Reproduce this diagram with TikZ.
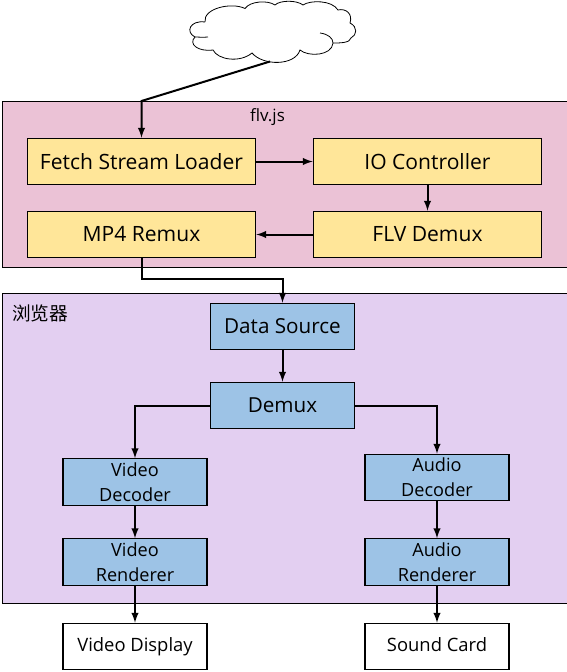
\documentclass[tikz,border=0pt]{standalone}
\usepackage{fontspec}
\setmainfont{Open Sans}
\newfontfamily\cjkfont{Noto Sans CJK SC}
\usetikzlibrary{shapes, arrows, positioning}
\definecolor{panelpink}{HTML}{EBC2D6}
\definecolor{panelviolet}{HTML}{E3CFF1}
\definecolor{boxyellow}{HTML}{FFE699}
\definecolor{boxblue}{HTML}{9DC3E6}
\tikzstyle{panel} = [draw=black, line width=0.8pt, rectangle, minimum width=424pt, anchor=north west, inner sep=0pt]
\tikzstyle{widebox} = [draw=black, fill=boxyellow, line width=0.8pt, rectangle, minimum width=171.5pt, minimum height=35pt, inner sep=0pt, font=\fontsize{15.8}{18}\selectfont]
\tikzstyle{midbox} = [draw=black, fill=boxblue, line width=0.8pt, rectangle, minimum width=108pt, minimum height=35pt, inner sep=0pt, font=\fontsize{15.5}{18}\selectfont]
\tikzstyle{smallbox} = [midbox, align=center, font=\fontsize{13.6}{19}\selectfont]
\tikzstyle{endbox} = [midbox, fill=white, text height=10.5pt, text depth=3pt, font=\fontsize{13.8}{16}\selectfont]
\tikzstyle{link} = [draw=black, line width=1.5pt, -latex]
\begin{document}
\begin{tikzpicture}[x=0.75pt,y=-0.75pt]
	\useasboundingbox (0,0) rectangle (567,672);
	\node [panel, fill=panelpink, minimum height=124.5pt] (flvpanel) at (2,101) {};
	\node [panel, fill=panelviolet, minimum height=232.5pt] (browserpanel) at (2,293) {};
	\draw [line width=0.6pt, fill=white] (205,22) .. controls (203,8) and (232,2) .. (245,8.5)
		.. controls (250,1) and (268,0) .. (275,5) .. controls (280,0) and (297,0) .. (303,5)
		.. controls (310,0) and (332,0) .. (338,10) .. controls (346,8) and (353,14) .. (350,23)
		.. controls (358,27) and (357,35) .. (351,38) .. controls (350,43) and (340,43) .. (333,43)
		.. controls (332,56) and (308,57) .. (300,50) .. controls (295,66) and (263,66) .. (252,53)
		.. controls (240,63) and (218,60) .. (213,50) .. controls (198,52) and (188,44) .. (195,37)
		.. controls (185,32) and (190,20) .. (205,22);
	\draw [line width=0.6pt] (208,37) .. controls (203,37.5) and (198,37) .. (195,37);
	\draw [line width=0.6pt] (320,33) .. controls (328,34) and (333,38) .. (333,43);
	\coordinate (cloudfoot) at (270,61.5);
	\node [font=\fontsize{12.7}{15}\selectfont] (flvlabel) at (267.5,117) {flv.js};
	\node [font=\fontsize{14}{16}\cjkfont, anchor=west, inner sep=0pt] (browserlabel) at (12,313) {浏览器};
	\node [widebox] (loader) at (141.5,161.5) {Fetch Stream Loader};
	\node [widebox] (iocontrol) at (427.5,161.5) {IO Controller};
	\node [widebox] (remux) at (141.5,234.5) {MP4 Remux};
	\node [widebox] (flvdemux) at (427.5,234.5) {FLV Demux};
	\node [midbox] (datasource) at (282.5,326.5) {Data Source};
	\node [midbox] (demux) at (282.5,405.5) {Demux};
	\node [smallbox] (vdecoder) at (135,482) {Video\\Decoder};
	\node [smallbox] (vrenderer) at (135,562) {Video\\Renderer};
	\node [smallbox] (adecoder) at (437,477.5) {Audio\\Decoder};
	\node [smallbox] (arenderer) at (437,562) {Audio\\Renderer};
	\node [endbox] (vdisplay) at (135,646.5) {Video Display};
	\node [endbox] (soundcard) at (437,646.5) {Sound Card};
	\draw [link] (cloudfoot) -- (loader.north |- flvpanel.north) -- (loader.north);
	\draw [link] (loader) -- (iocontrol);
	\draw [link] (iocontrol) -- (flvdemux);
	\draw [link] (flvdemux) -- (remux);
	\draw [link] (remux.south) -- ++(0,21) -| (datasource.north);
	\draw [link] (datasource) -- (demux);
	\draw [link] (demux.west) -| (vdecoder.north);
	\draw [link] (demux.east) -| (adecoder.north);
	\draw [link] (vdecoder) -- (vrenderer);
	\draw [link] (adecoder) -- (arenderer);
	\draw [link] (vrenderer) -- (vdisplay);
	\draw [link] (arenderer) -- (soundcard);
\end{tikzpicture}
\end{document}
